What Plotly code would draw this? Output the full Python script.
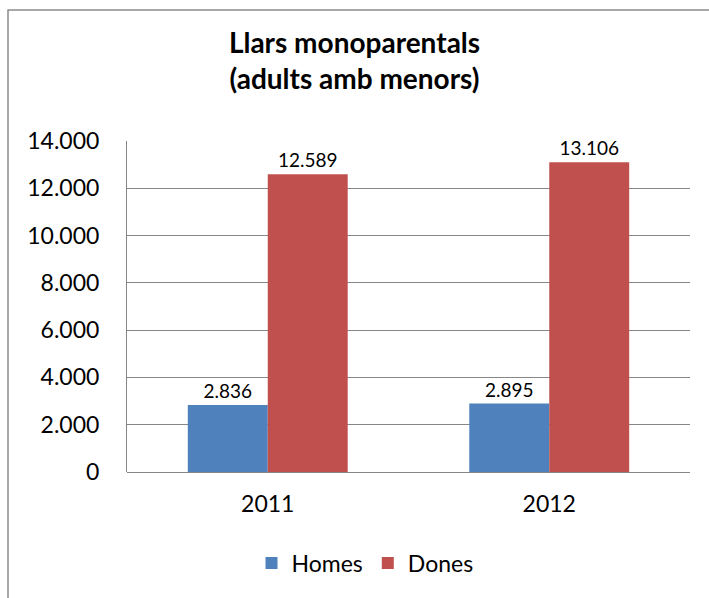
import plotly.graph_objects as go

years = ["2011", "2012"]
homes = [2836, 2895]
dones = [12589, 13106]
y_ticks = [0, 2000, 4000, 6000, 8000, 10000, 12000, 14000]

W, H = 709, 598
L, R, T, B = 127, 19, 141, 126
pw = W - L - R
ph = H - T - B

def px_x(x):
    return (x - L) / pw

def px_y(y):
    return (H - B - y) / ph

FONT = "Lato"

fig = go.Figure()
fig.add_trace(go.Bar(
    name="Homes", x=years, y=homes, marker=dict(color="#4F81BD", line=dict(width=0)),
    texttemplate="%{y:,}", textposition="outside",
    textfont=dict(family=FONT, size=19, color="#000000"), cliponaxis=False,
))
fig.add_trace(go.Bar(
    name="Dones", x=years, y=dones, marker=dict(color="#C0504D", line=dict(width=0)),
    texttemplate="%{y:,}", textposition="outside",
    textfont=dict(family=FONT, size=19, color="#000000"), cliponaxis=False,
))

fig.update_layout(
    width=W, height=H,
    margin=dict(l=L, r=R, t=T, b=B, pad=0),
    paper_bgcolor="white", plot_bgcolor="white",
    separators=",.",
    font=dict(family=FONT, size=23, color="#000000"),
    barmode="group", bargap=0.432, bargroupgap=0,
    title=dict(
        text="<b>Llars monoparentals<br>(adults amb menors)</b>",
        x=0.5, xref="container", xanchor="center",
        y=1 - 53 / H, yref="container", yanchor="top",
        font=dict(family=FONT, size=28, color="#000000"),
    ),
    showlegend=True,
    legend=dict(
        orientation="h", x=px_x(365), xanchor="center",
        y=px_y(563), yanchor="middle",
        font=dict(family=FONT, size=23), itemwidth=30,
        bgcolor="rgba(0,0,0,0)", traceorder="normal",
    ),
    xaxis=dict(
        showgrid=False, showline=False, ticks="", zeroline=False,
        tickfont=dict(family=FONT, size=23), ticklabelstandoff=16,
    ),
    yaxis=dict(
        range=[0, 14000], tickvals=y_ticks, tickformat=",d",
        showgrid=True, gridcolor="#868686", gridwidth=1,
        showline=True, linecolor="#868686", linewidth=1,
        zeroline=True, zerolinecolor="#868686", zerolinewidth=1,
        ticks="", tickfont=dict(family=FONT, size=23), ticklabelstandoff=22,
    ),
    shapes=[dict(
        type="rect", xref="paper", yref="paper",
        x0=px_x(8), x1=px_x(W + 20), y0=px_y(H + 20), y1=px_y(10),
        line=dict(color="#8c8c8c", width=1.5), fillcolor="rgba(0,0,0,0)", layer="below",
    )],
)

fig.write_html(
    "out.html",
    config={"displayModeBar": False},
    post_script="document.body.style.margin='0px';document.body.style.overflow='hidden';",
)
